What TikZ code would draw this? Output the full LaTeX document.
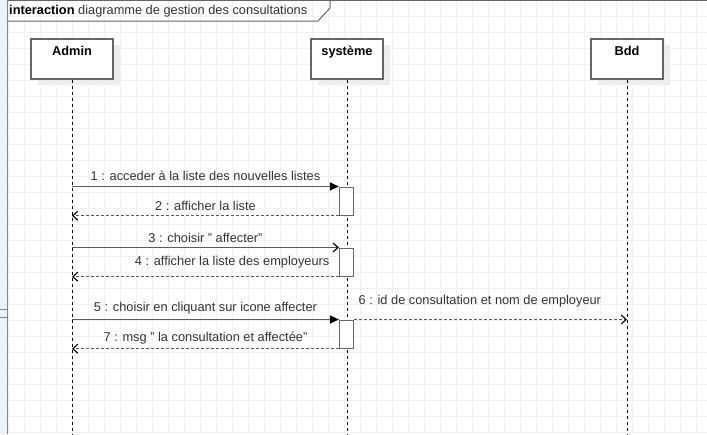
\documentclass[tikz,border=0pt]{standalone}
\usepackage{fontspec}
\setmainfont{Liberation Sans}
\usetikzlibrary{arrows.meta}

\definecolor{gridgray}{HTML}{F1F1F1}
\definecolor{boxgray}{HTML}{666666}
\definecolor{linegray}{HTML}{5A5A5A}
\definecolor{textgray}{HTML}{333333}
\definecolor{shadowgray}{HTML}{EDEDED}
\definecolor{selblue}{HTML}{4A8FE8}
\definecolor{stripblue}{HTML}{EAF2FD}

\tikzset{
	head/.style={draw=boxgray, line width=1.2pt, fill=white, minimum width=82pt, minimum height=40pt, inner sep=0pt},
	headname/.style={anchor=north, inner sep=0pt, yshift=-8pt, font=\fontsize{12.8}{15}\selectfont\bfseries},
	act/.style={draw=boxgray, line width=1.2pt, fill=white, minimum width=14pt, minimum height=28pt, inner sep=0pt},
	lifeline/.style={black, line width=0.9pt, dash pattern=on 3pt off 3pt},
	call/.style={linegray, line width=1.2pt, -{Triangle[length=9pt,width=8pt,color=black]}},
	opencall/.style={linegray, line width=1.2pt, -{Straight Barb[length=5pt,width=9pt,color=black]}},
	reply/.style={linegray, line width=1.1pt, dash pattern=on 3pt off 2pt, -{Straight Barb[length=5pt,width=9pt,color=black]}},
	msglabel/.style={text=textgray, inner sep=0pt, font=\fontsize{12.8}{15}\selectfont},
}

\begin{document}
\begin{tikzpicture}[x=1pt, y=-1pt]
	\useasboundingbox (0,0) rectangle (707,434);
	% background and grid
	\fill[white] (0,0) rectangle (707,434);
	\begin{scope}[xshift=8pt]
		\draw[gridgray, line width=0.8pt, step=16pt] (-16,0) grid (700,434);
	\end{scope}
	\fill[stripblue, opacity=0.85] (0,0) rectangle (7,434);
	\draw[selblue, line width=1.5pt] (7.5,0) -- (7.5,434);
	\draw[selblue, line width=1pt] (0,309.5) -- (7,309.5);
	\draw[selblue, line width=1pt] (0,317.5) -- (7,317.5);

	% frame
	\draw[boxgray, line width=1pt] (8,0.5) -- (707,0.5);
	\draw[boxgray, line width=1pt] (8,21) -- (318,21) -- (330,8) -- (330,0);
	\node[anchor=west, inner sep=0pt, text=textgray, font=\fontsize{12.8}{15}\selectfont] (title) at (9,11)
		{\textcolor{black}{\bfseries interaction} diagramme de gestion des consultations};

	\coordinate (bottom) at (0,434);

	% lifeline heads
	\fill[shadowgray] (38,45) rectangle (120,85);
	\fill[shadowgray] (318,45) rectangle (390,85);
	\fill[shadowgray] (598,45) rectangle (670,85);
	\node[head] (admin) at (72,59) {};
	\node[head, minimum width=72pt] (sys) at (347,59) {};
	\node[head, minimum width=72pt] (bdd) at (627,59) {};
	\node[headname] at (admin.north) {Admin};
	\node[headname] at (sys.north) {système};
	\node[headname] at (bdd.north) {Bdd};

	\draw[lifeline] (admin.south) -- (admin.south |- bottom);
	\draw[lifeline] (sys.south) -- (sys.south |- bottom);
	\draw[lifeline] (bdd.south) -- (bdd.south |- bottom);

	% activations
	\node[act, anchor=north] (a1) at (346.5,186.5) {};
	\node[act, anchor=north] (a2) at (346.5,247.5) {};
	\node[act, anchor=north] (a3) at (346.5,319.5) {};

	% messages
	\draw[call] (admin.south |- a1.north west) -- (a1.north west)
		node[msglabel, midway, above=5pt] {1 : acceder à la liste des nouvelles listes};
	\draw[reply] (a1.south west) -- (admin.south |- a1.south west)
		node[msglabel, midway, above=5pt] {2 : afficher la liste};
	\draw[opencall] (admin.south |- a2.north west) -- (a2.north west)
		node[msglabel, midway, above=4pt] {3 : choisir " affecter"};
	\draw[reply] (a2.south west) -- (admin.south |- a2.south west)
		node[msglabel, pos=0.4, above=8pt] {4 : afficher la liste des employeurs};
	\draw[call] (admin.south |- a3.north west) -- (a3.north west)
		node[msglabel, midway, above=5pt] {5 : choisir en cliquant sur icone affecter};
	\draw[reply] (a3.north east) -- (bdd.south |- a3.north east)
		node[msglabel, pos=0, anchor=south west, xshift=4pt, yshift=12pt] {6 : id de consultation et nom de employeur};
	\draw[reply] (a3.south west) -- (admin.south |- a3.south west)
		node[msglabel, midway, above=4pt] {7 : msg " la consultation et affectée"};
\end{tikzpicture}
\end{document}
